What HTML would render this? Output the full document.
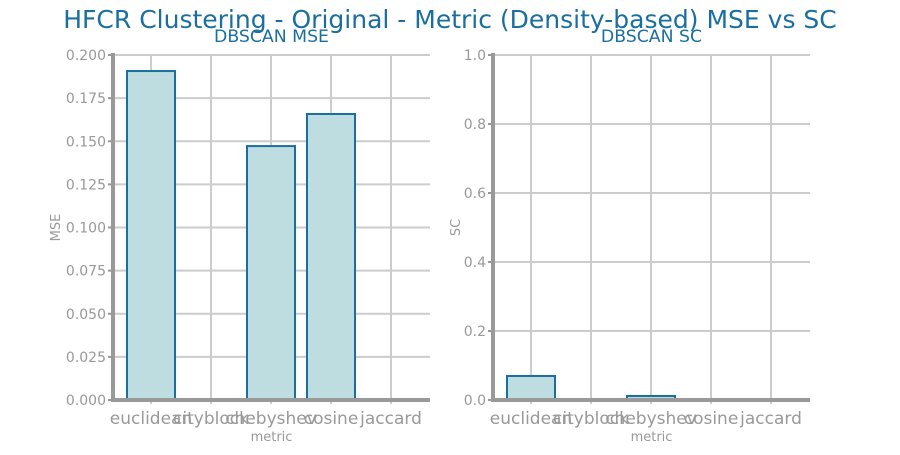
<!DOCTYPE html>
<html><head><meta charset="utf-8"><style>
body{margin:0;background:#fff}
svg text{font-family:"DejaVu Sans","Liberation Sans",sans-serif}
</style></head><body>
<svg id="c" width="900" height="450"></svg>
<script>
const categories=["euclidean","cityblock","chebyshev","cosine","jaccard"];
const mseValues=[0.1907,0,0.1472,0.1658,0];
const scValues=[0.0696,0,0.0116,0,0];
const mseTicks=[0,0.025,0.05,0.075,0.1,0.125,0.15,0.175,0.2];
const scTicks=[0,0.2,0.4,0.6,0.8,1.0];
const NS="http://www.w3.org/2000/svg";
const svg=document.getElementById('c');
function mk(t,a,p){const e=document.createElementNS(NS,t);for(const k in a)e.setAttribute(k,a[k]);(p||svg).appendChild(e);return e;}
const title=mk('text',{x:450,y:28,'text-anchor':'middle','font-size':25,fill:'#1a6fa0'});
title.textContent='HFCR Clustering - Original - Metric (Density-based) MSE vs SC';


function panel(x0,x1,ymax,ticks,vals,fmt,ylab,ttl,name){
  const top=55,bot=400;
  const g=mk('g',{});
  
  
  const ys=v=>bot-(v/ymax)*(bot-top);
  const xs=i=>x0+38+60*i;
  ticks.forEach(t=>{
    const y=ys(t);
    mk('line',{x1:x0,x2:x1,y1:y,y2:y,stroke:'#cccccc','stroke-width':2},g);
    mk('line',{x1:x0-5,x2:x0,y1:y,y2:y,stroke:'#999','stroke-width':2},g);
    const tx=mk('text',{x:x0-7,y:y+5,'text-anchor':'end','font-size':14,fill:'#999'},g);
    tx.textContent=fmt(t);
    
    
  });
  categories.forEach((c,i)=>{
    const x=xs(i);
    mk('line',{x1:x,x2:x,y1:top,y2:bot+4,stroke:'#cccccc','stroke-width':2},g);
  });
  vals.forEach((v,i)=>{
    if(v<=0)return;
    const w=48,x=xs(i)-w/2,y=ys(v);
    const r=mk('rect',{x:x,y:y,width:w,height:bot-y,fill:'#bedde0',stroke:'#1a6fa0','stroke-width':2},g);
    
    
  });
  categories.forEach((c,i)=>{
    const tx=mk('text',{x:xs(i),y:424,'text-anchor':'middle','font-size':17,fill:'#999'},g);
    tx.textContent=c;
    
    
  });
  mk('line',{x1:x0,x2:x0,y1:top-2,y2:bot+2,stroke:'#999','stroke-width':4},g);
  mk('line',{x1:x0-2,x2:x1,y1:bot,y2:bot,stroke:'#999','stroke-width':4},g);
  const xl=mk('text',{x:(x0+x1)/2,y:441,'text-anchor':'middle','font-size':13,fill:'#999'},g);
  xl.textContent='metric';
  
  
  const cy=(top+bot)/2;
  const ox=ylab==='SC'?x0-33:x0-53;
  const yl=mk('text',{x:ox,y:cy,'text-anchor':'middle','font-size':13,fill:'#999',transform:`rotate(-90 ${ox} ${cy})`},g);
  yl.textContent=ylab;
  
  
  const t=mk('text',{x:(x0+x1)/2,y:42,'text-anchor':'middle','font-size':17.3,fill:'#1a6fa0'},g);
  t.textContent=ttl;
  
  
}
panel(113,430,0.2,mseTicks,mseValues,v=>v.toFixed(3),'MSE','DBSCAN MSE','mse-panel');
panel(493,810,1.0,scTicks,scValues,v=>v.toFixed(1),'SC','DBSCAN SC','sc-panel');
</script>
</body></html>
